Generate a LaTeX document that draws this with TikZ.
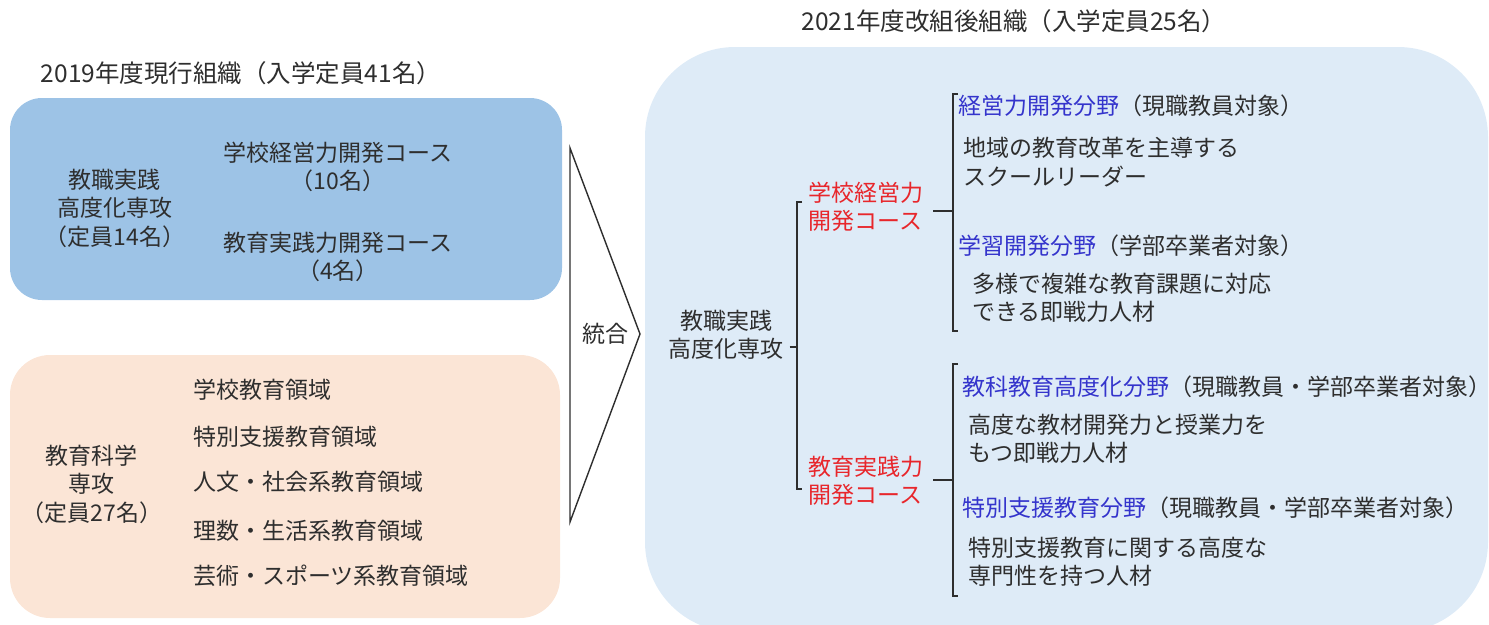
\documentclass[tikz,border=0pt]{standalone}
\usepackage{fontspec}
\setmainfont{Noto Sans CJK JP}
\definecolor{bluebox}{HTML}{9DC3E6}
\definecolor{peachbox}{HTML}{FBE5D6}
\definecolor{rightbox}{HTML}{DEEBF7}
\definecolor{txtgray}{HTML}{2E2E2E}
\definecolor{redtxt}{HTML}{E8262B}
\definecolor{bluetxt}{HTML}{3434CC}
\begin{document}
\begin{tikzpicture}[x=1pt,y=-1pt,
  txt/.style={font=\fontsize{23}{28.5}\selectfont, inner sep=0pt, text=txtgray, align=center},
  ltxt/.style={txt, anchor=west, align=left},
  title/.style={font=\fontsize{24.5}{28}\selectfont, inner sep=0pt, text=txtgray},
  red/.style={ltxt, text=redtxt},
  brack/.style={draw=txtgray, line width=1.8pt},
  blu/.style={text=bluetxt}]
\useasboundingbox (0,0) rectangle (1489,624);
% boxes
\fill[bluebox, rounded corners=32pt] (10,98) rectangle (562,300);
\fill[peachbox, rounded corners=40pt] (10,355) rectangle (560,618);
\begin{scope}
\clip (0,0) rectangle (1489,624);
\fill[rightbox, rounded corners=90pt] (645,47) rectangle (1488,632);
\end{scope}
% titles
\node[title] (t1) at (241,73) {2019年度現行組織（入学定員41名）};
\node[title] (t2) at (1014,21) {2021年度改組後組織（入学定員25名）};
% left blue
\node[txt] (b1) at (115,208) {教職実践\\高度化専攻\\（定員14名）};
\node[txt] (c1) at (338,167) {学校経営力開発コース\\（10名）};
\node[txt] (c2) at (338,257) {教育実践力開発コース\\（4名）};
% peach
\node[txt] (p1) at (92,484) {教育科学\\専攻\\（定員27名）};
\node[ltxt] (i1) at (193,390) {学校教育領域};
\node[ltxt] (i2) at (193,437) {特別支援教育領域};
\node[ltxt] (i3) at (193,482) {人文・社会系教育領域};
\node[ltxt] (i4) at (193,531) {理数・生活系教育領域};
\node[ltxt] (i5) at (193,576) {芸術・スポーツ系教育領域};
% arrow
\coordinate (a1) at (570,148);
\coordinate (a2) at (640,334);
\coordinate (a3) at (570,522);
\draw[draw=txtgray, line width=1.4pt, fill=white, line join=miter] (a1) -- (a2) -- (a3) -- cycle;
\node[txt] (u) at (605,334) {統合};
% right
\node[txt] (m) at (726,335) {教職実践\\高度化専攻};
\coordinate (m1) at (784,347);
\coordinate (m2) at (797,347);
\draw[brack] (m.east |- m1) ++(6,0) -- (m2);
\draw[brack] (802,202) -- (797,202) -- (797,489) -- (802,489);
\node[red] (r1) at (808,207) {学校経営力\\開発コース};
\node[red] (r2) at (808,481) {教育実践力\\開発コース};
% bracket 2
\coordinate (k1) at (940,211);
\coordinate (k2) at (953,211);
\draw[brack] (r1.east |- k1) ++(10,0) -- (k2);
\draw[brack] (958,94) -- (953,94) -- (953,331) -- (958,331);
\node[ltxt] (f1) at (958,106) {\textcolor{bluetxt}{経営力開発分野}（現職教員対象）};
\node[ltxt] (d1) at (963,162) {地域の教育改革を主導する\\スクールリーダー};
\node[ltxt] (f2) at (958,246) {\textcolor{bluetxt}{学習開発分野}（学部卒業者対象）};
\node[ltxt] (d2) at (972,298) {多様で複雑な教育課題に対応\\できる即戦力人材};
% bracket 3
\coordinate (k3) at (940,480);
\coordinate (k4) at (953,480);
\draw[brack] (r2.east |- k3) ++(10,0) -- (k4);
\draw[brack] (958,364) -- (953,364) -- (953,596) -- (958,596);
\node[ltxt] (f3) at (962,387) {\textcolor{bluetxt}{教科教育高度化分野}（現職教員・学部卒業者対象）};
\node[ltxt] (d3) at (968,439) {高度な教材開発力と授業力を\\もつ即戦力人材};
\node[ltxt] (f4) at (962,508) {\textcolor{bluetxt}{特別支援教育分野}（現職教員・学部卒業者対象）};
\node[ltxt] (d4) at (968,562) {特別支援教育に関する高度な\\専門性を持つ人材};
\end{tikzpicture}
\end{document}
